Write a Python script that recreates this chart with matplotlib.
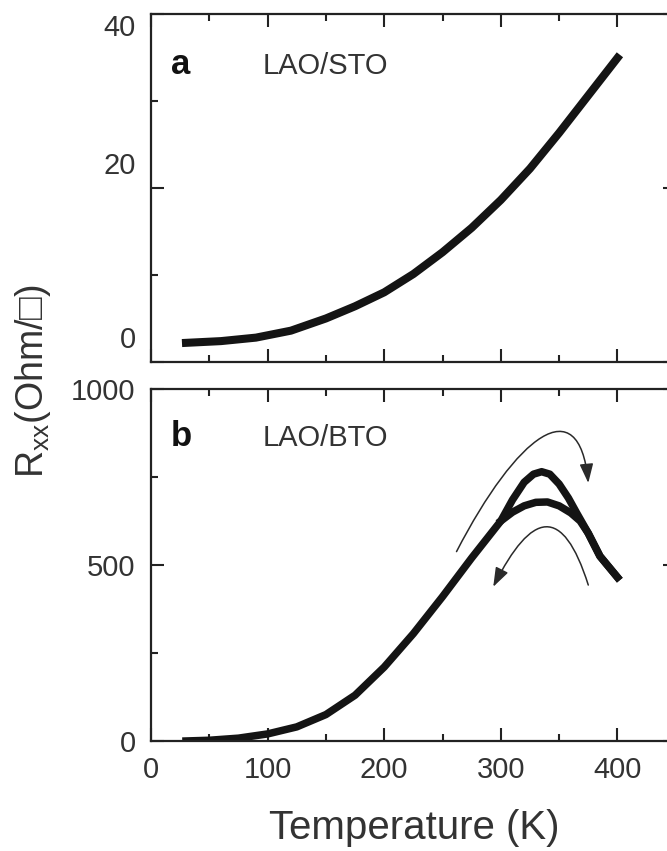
import matplotlib
matplotlib.use("Agg")
import matplotlib.pyplot as plt
import matplotlib.transforms as mtransforms
from matplotlib.patches import FancyArrowPatch
from matplotlib.path import Path

plt.rcParams['font.family'] = ['Liberation Sans', 'DejaVu Sans']
plt.rcParams['mathtext.default'] = 'regular'

# panel a: LAO/STO
t_sto = [30, 60, 90, 120, 150, 175, 200, 225, 250, 275, 300, 325, 350, 375, 400]
r_sto = [2.2, 2.4, 2.8, 3.6, 5.0, 6.4, 8.0, 10.1, 12.6, 15.4, 18.6, 22.2, 26.3, 30.6, 34.9]

# panel b: LAO/BTO, heating and cooling branches
t_heat = [30, 50, 75, 100, 125, 150, 175, 200, 225, 250, 275, 300, 310, 320, 328, 335,
          342, 350, 358, 365, 375, 385, 400]
r_heat = [0, 2, 8, 20, 40, 75, 130, 210, 305, 410, 520, 625, 685, 735, 758, 765,
          758, 730, 690, 648, 590, 525, 465]
t_cool = [300, 310, 320, 330, 340, 350, 360, 368, 375, 385, 400]
r_cool = [625, 650, 668, 678, 679, 668, 648, 625, 590, 525, 465]

x_ticks = [0, 100, 200, 300, 400]
text_col = '#333333'
line_col = '#141414'

fig = plt.figure(figsize=(6.67, 8.51), dpi=100)
ax1 = fig.add_axes([0.2264, 0.5746, 0.7867, 0.4095])
ax2 = fig.add_axes([0.2264, 0.1293, 0.7867, 0.4136])

for ax in (ax1, ax2):
    ax.set_xlim(0, 450)
    ax.set_xticks(x_ticks)
    ax.set_xticks([50, 150, 250, 350], minor=True)
    for s in ax.spines.values():
        s.set_linewidth(1.6)
        s.set_color('#222222')
    ax.tick_params(which='both', direction='in', top=True, right=True,
                   width=1.5, color='#222222', labelsize=21, labelcolor=text_col)
    ax.tick_params(which='major', length=9.5)
    ax.tick_params(which='minor', length=5)
    ax.tick_params(axis='y', pad=11)
    ax.tick_params(axis='x', pad=11)

ax1.plot(t_sto, r_sto, color=line_col, lw=5.8, solid_capstyle='projecting')
ax1.set_ylim(0, 40)
ax1.set_yticks([0, 20, 40])
ax1.set_yticks([10, 30], minor=True)
ax1.tick_params(axis='x', labelbottom=False)
# labels in the source sit a bit off their ticks
for lab, dy in zip(ax1.get_yticklabels(), [25, 25, -11]):
    off = mtransforms.ScaledTranslation(0, dy / 100, fig.dpi_scale_trans)
    lab.set_transform(lab.get_transform() + off)

ax2.plot(t_heat, r_heat, color=line_col, lw=5.4, solid_capstyle='projecting')
ax2.plot(t_cool, r_cool, color=line_col, lw=5.4, solid_capstyle='projecting')
ax2.set_ylim(0, 1000)
ax2.set_yticks([0, 500, 1000])
ax2.set_yticks([250, 750], minor=True)

# sweep arrows
up = Path([(262, 538), (313.5, 868), (367, 1005), (375, 733)],
          [Path.MOVETO, Path.CURVE4, Path.CURVE4, Path.CURVE4])
down = Path([(375, 443), (353, 673), (326.5, 654), (293.5, 438)],
            [Path.MOVETO, Path.CURVE4, Path.CURVE4, Path.CURVE4])
for p in (up, down):
    ax2.add_patch(FancyArrowPatch(path=p, arrowstyle='-|>,head_length=0.9,head_width=0.32',
                                  mutation_scale=13, lw=1.1, color='#2a2a2a'))

ax1.text(0.057, 0.826, 'a', transform=ax1.transAxes, fontsize=25, fontweight='bold',
         ha='center', va='baseline', color='#111111')
ax1.text(0.213, 0.826, 'LAO/STO', transform=ax1.transAxes, fontsize=21,
         ha='left', va='baseline', color=text_col)
ax2.text(0.057, 0.838, 'b', transform=ax2.transAxes, fontsize=25, fontweight='bold',
         ha='center', va='baseline', color='#111111')
ax2.text(0.213, 0.838, 'LAO/BTO', transform=ax2.transAxes, fontsize=21,
         ha='left', va='baseline', color=text_col)

fig.text(414 / 667, 1 - 828 / 851, 'Temperature (K)', fontsize=29, color=text_col,
         ha='center', va='center')
fig.text(33 / 667, 1 - 381 / 851, 'R$_{xx}$(Ohm/\u25a1)', fontsize=27, color=text_col,
         ha='center', va='center', rotation=90)

fig.savefig('out.png', dpi=100)
